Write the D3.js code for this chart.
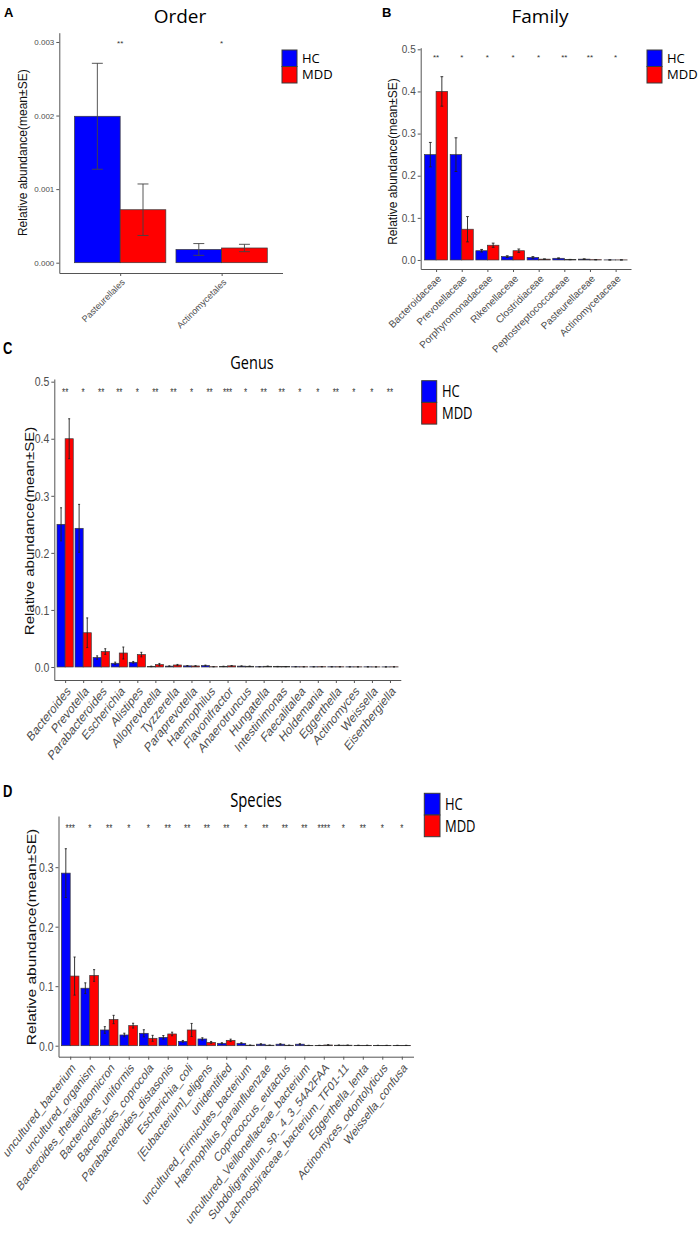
<!DOCTYPE html>
<html><head><meta charset="utf-8">
<script src="https://cdn.jsdelivr.net/npm/d3@7/dist/d3.min.js"></script>
<style>body{margin:0;background:#fff;} svg{display:block;}</style>
</head><body><svg id="c" width="700" height="1239"></svg>
<script>
// ---------- DATA ----------
const groups = ["HC", "MDD"];
const groupColors = ["#0000FF", "#FF0000"];

const orderCategories = ["Pasteurellales", "Actinomycetales"];
const orderHC = [0.00199, 0.00018];
const orderHCse = [0.00072, 0.00008];
const orderMDD = [0.00072, 0.00020];
const orderMDDse = [0.00035, 0.00005];
const orderStars = ["**", "*"];
const orderTicks = [0, 0.001, 0.002, 0.003];

const familyCategories = ["Bacteroidaceae", "Prevotellaceae", "Porphyromonadaceae", "Rikenellaceae", "Clostridiaceae", "Peptostreptococcaceae", "Pasteurellaceae", "Actinomycetaceae"];
const familyHC = [0.250, 0.250, 0.022, 0.008, 0.006, 0.004, 0.002, 0.0002];
const familyHCse = [0.029, 0.040, 0.003, 0.002, 0.002, 0.001, 0.0007, 0.0001];
const familyMDD = [0.400, 0.073, 0.035, 0.022, 0.002, 0.001, 0.0007, 0.0002];
const familyMDDse = [0.035, 0.030, 0.005, 0.004, 0.0005, 0.0004, 0.0003, 0.0001];
const familyStars = ["**", "*", "*", "*", "*", "**", "**", "*"];
const familyTicks = [0, 0.1, 0.2, 0.3, 0.4, 0.5];

const genusCategories = ["Bacteroides", "Prevotella", "Parabacteroides", "Escherichia", "Alistipes", "Alloprevotella", "Tyzzerella", "Paraprevotella", "Haemophilus", "Flavonifractor", "Anaerotruncus", "Hungatella", "Intestinimonas", "Faecalitalea", "Holdemania", "Eggerthella", "Actinomyces", "Weissella", "Eisenbergiella"];
const genusHC = [0.250, 0.243, 0.0165, 0.0065, 0.0082, 0.001, 0.0015, 0.002, 0.0025, 0.001, 0.0015, 0.0005, 0.0007, 0.0005, 0.0004, 0.0004, 0.0003, 0.0003, 0.0002];
const genusHCse = [0.029, 0.042, 0.003, 0.002, 0.0015, 0.0005, 0.0005, 0.0006, 0.0008, 0.0004, 0.0004, 0.0002, 0.0003, 0.0002, 0.0002, 0.0002, 0.0001, 0.0001, 0.0001];
const genusMDD = [0.400, 0.060, 0.027, 0.0245, 0.0217, 0.0042, 0.0035, 0.0018, 0.0005, 0.002, 0.0012, 0.0012, 0.0006, 0.0004, 0.0005, 0.0004, 0.0003, 0.0002, 0.0003];
const genusMDDse = [0.035, 0.026, 0.005, 0.0105, 0.004, 0.002, 0.001, 0.0005, 0.0002, 0.0006, 0.0004, 0.0004, 0.0002, 0.0002, 0.0002, 0.0002, 0.0001, 0.0001, 0.0001];
const genusStars = ["**", "*", "**", "**", "*", "**", "**", "*", "**", "***", "*", "**", "**", "*", "*", "**", "*", "*", "**"];
const genusTicks = [0, 0.1, 0.2, 0.3, 0.4, 0.5];

const speciesCategories = ["uncultured_bacterium", "uncultured_organism", "Bacteroides_thetaiotaomicron", "Bacteroides_uniformis", "Bacteroides_coprocola", "Parabacteroides_distasonis", "Escherichia_coli", "[Eubacterium]_eligens", "unidentified", "uncultured_Firmicutes_bacterium", "Haemophilus_parainfluenzae", "Coprococcus_eutactus", "uncultured_Veillonellaceae_bacterium", "Subdoligranulum_sp._4_3_54A2FAA", "Lachnospiraceae_bacterium_TF01-11", "Eggerthella_lenta", "Actinomyces_odontolyticus", "Weissella_confusa"];
const speciesHC = [0.290, 0.0966, 0.0264, 0.018, 0.0208, 0.014, 0.0073, 0.0113, 0.004, 0.004, 0.0025, 0.0025, 0.0025, 0.0005, 0.0008, 0.0006, 0.0005, 0.0005];
const speciesHCse = [0.041, 0.009, 0.0056, 0.003, 0.006, 0.003, 0.0015, 0.002, 0.001, 0.001, 0.0008, 0.0008, 0.0008, 0.0002, 0.0003, 0.0002, 0.0002, 0.0002];
const speciesMDD = [0.117, 0.118, 0.044, 0.0337, 0.0124, 0.0197, 0.0264, 0.0056, 0.009, 0.0008, 0.0008, 0.0007, 0.0005, 0.0012, 0.0008, 0.0006, 0.0005, 0.0005];
const speciesMDDse = [0.032, 0.0098, 0.007, 0.004, 0.005, 0.003, 0.011, 0.0015, 0.002, 0.0003, 0.0003, 0.0003, 0.0002, 0.0004, 0.0003, 0.0002, 0.0002, 0.0002];
const speciesStars = ["***", "*", "**", "*", "*", "**", "**", "**", "**", "*", "**", "**", "**", "****", "*", "**", "*", "*"];
const speciesTicks = [0, 0.1, 0.2, 0.3];

// ---------- DRAW ----------
const svg = d3.select("#c");
const tickFont = "'Liberation Sans', Arial, sans-serif";
const titleFont = "'Open Sans', 'DejaVu Sans', sans-serif";
const axisColor = "#555";

function drawPanel(cfg) {
  const g = svg.append("g");
  const sy = cfg.sy;
  const x = d3.scalePoint().domain(cfg.cats).range([cfg.x0, cfg.x1]).padding(0.6);
  const step = x.step();
  const sub = d3.scaleBand().domain(groups).range([-0.45 * step, 0.45 * step]);
  const bw = sub.bandwidth();
  const y = d3.scaleLinear().domain(cfg.yDomain).range([cfg.y1, cfg.y0]);

  const rows = [];
  cfg.cats.forEach((c, i) => {
    rows.push({c, k: "HC", v: cfg.hc[i], se: cfg.hcse[i], col: groupColors[0]});
    rows.push({c, k: "MDD", v: cfg.mdd[i], se: cfg.mddse[i], col: groupColors[1]});
  });

  // bars
  g.selectAll("rect.bar").data(rows).enter().append("rect")
    .attr("x", d => x(d.c) + sub(d.k))
    .attr("width", bw)
    .attr("y", d => y(d.v))
    .attr("height", d => Math.max(0, y(0) - y(d.v)))
    .attr("fill", d => d.col)
    .attr("stroke", "#3a3a3a").attr("stroke-width", 0.7);

  // error bars
  const capW = bw * 0.24;
  const eb = g.selectAll("g.eb").data(rows).enter().append("g")
    .attr("stroke", cfg.ebColor).attr("stroke-width", 0.9);
  eb.append("line")
    .attr("x1", d => x(d.c) + sub(d.k) + bw / 2).attr("x2", d => x(d.c) + sub(d.k) + bw / 2)
    .attr("y1", d => y(d.v - d.se)).attr("y2", d => y(d.v + d.se));
  eb.append("line")
    .attr("x1", d => x(d.c) + sub(d.k) + bw / 2 - capW / 2).attr("x2", d => x(d.c) + sub(d.k) + bw / 2 + capW / 2)
    .attr("y1", d => y(d.v - d.se)).attr("y2", d => y(d.v - d.se));
  eb.append("line")
    .attr("x1", d => x(d.c) + sub(d.k) + bw / 2 - capW / 2).attr("x2", d => x(d.c) + sub(d.k) + bw / 2 + capW / 2)
    .attr("y1", d => y(d.v + d.se)).attr("y2", d => y(d.v + d.se));

  // stars
  g.selectAll("text.star").data(cfg.cats).enter().append("text")
    .attr("transform", (c) => `translate(${x(c)},${y(cfg.starY)}) scale(1,${sy})`)
    .attr("y", cfg.starSize * 0.55)
    .attr("text-anchor", "middle")
    .attr("font-family", tickFont).attr("font-size", cfg.starSize)
    .attr("fill", "#333")
    .text((c, i) => cfg.stars[i]);

  // y axis
  const ya = g.append("g").attr("transform", `translate(${cfg.x0},0)`)
    .call(d3.axisLeft(y).tickValues(cfg.ticks).tickFormat(d3.format(cfg.fmt)).tickSize(3).tickSizeOuter(0));
  ya.select(".domain").attr("stroke", axisColor).attr("stroke-width", 1);
  ya.selectAll(".tick line").attr("stroke", axisColor);
  ya.selectAll(".tick text").attr("fill", "#4d4d4d").attr("font-family", tickFont)
    .attr("font-size", cfg.tickSize).attr("x", -5).attr("transform", `scale(1,${sy})`);

  // x axis
  const xa = g.append("g").attr("transform", `translate(0,${cfg.y1})`)
    .call(d3.axisBottom(x).tickSize(3).tickSizeOuter(0));
  xa.select(".domain").attr("stroke", axisColor).attr("stroke-width", 1);
  xa.selectAll(".tick line").attr("stroke", axisColor);
  xa.selectAll(".tick text").attr("fill", "#4d4d4d").attr("font-family", tickFont)
    .attr("font-size", cfg.xlabSize)
    .attr("x", 0).attr("y", 0).attr("dy", "0.75em")
    .attr("text-anchor", "end")
    .attr("transform", `translate(0,5) scale(1,${sy}) rotate(-45)`);

  // y title
  g.append("text")
    .attr("transform", `translate(${cfg.ytx},${cfg.yty}) scale(1,${sy}) rotate(-90)`)
    .attr("text-anchor", "middle").attr("dy", "0.35em")
    .attr("font-family", tickFont).attr("font-size", cfg.ytSize).attr("fill", "#111")
    .text("Relative abundance(mean±SE)");

  // title
  g.append("text")
    .attr("transform", `translate(${cfg.tx},${cfg.ty}) scale(1,${sy})`)
    .attr("text-anchor", "middle")
    .attr("font-family", titleFont).attr("font-size", cfg.titleSize).attr("fill", "#000")
    .text(cfg.title);

  // panel letter
  g.append("text")
    .attr("transform", `translate(${cfg.lx},${cfg.ly}) scale(1,${sy})`)
    .attr("font-family", "Arial, 'Liberation Sans', sans-serif").attr("font-weight", "bold")
    .attr("font-size", 13).attr("fill", "#000")
    .text(cfg.letter);

  // legend
  groups.forEach((k, i) => {
    g.append("rect")
      .attr("x", cfg.legX).attr("y", cfg.legY + i * cfg.legH)
      .attr("width", cfg.legW).attr("height", cfg.legH)
      .attr("fill", groupColors[i]).attr("stroke", "#3a3a3a").attr("stroke-width", 1);
    g.append("text")
      .attr("transform", `translate(${cfg.legTX},${cfg.legY + i * cfg.legH + cfg.legH / 2}) scale(1,${sy})`)
      .attr("dy", "0.36em")
      .attr("font-family", titleFont).attr("font-size", cfg.legSize).attr("fill", "#000")
      .text(k);
  });
}

drawPanel({
  letter: "A", lx: 4, ly: 17, title: "Order", tx: 180, ty: 23, titleSize: 19, sy: 1,
  cats: orderCategories, hc: orderHC, hcse: orderHCse, mdd: orderMDD, mddse: orderMDDse,
  stars: orderStars, starY: 0.003, starSize: 8, ebColor: "#444",
  ticks: orderTicks, fmt: ".3f", yDomain: [-0.00014, 0.003126],
  x0: 59.3, x1: 282.5, y0: 32.7, y1: 273,
  tickSize: 8, xlabSize: 9, ytSize: 12, ytx: 22.5, yty: 152.7,
  legX: 282, legY: 50, legW: 15, legH: 16.5, legTX: 302, legSize: 13
});

drawPanel({
  letter: "B", lx: 382, ly: 17, title: "Family", tx: 540, ty: 23, titleSize: 19, sy: 1,
  cats: familyCategories, hc: familyHC, hcse: familyHCse, mdd: familyMDD, mddse: familyMDDse,
  stars: familyStars, starY: 0.486, starSize: 8, ebColor: "#222",
  ticks: familyTicks, fmt: ".1f", yDomain: [-0.0214, 0.5038],
  x0: 420.7, x1: 631, y0: 47.7, y1: 269,
  tickSize: 10, xlabSize: 10, ytSize: 12, ytx: 393, yty: 161.5,
  legX: 647, legY: 50, legW: 15, legH: 16.5, legTX: 667, legSize: 13
});

drawPanel({
  letter: "C", lx: 3, ly: 354, title: "Genus", tx: 252, ty: 369, titleSize: 14.5, sy: 1.25,
  cats: genusCategories, hc: genusHC, hcse: genusHCse, mdd: genusMDD, mddse: genusMDDse,
  stars: genusStars, starY: 0.484, starSize: 8, ebColor: "#222",
  ticks: genusTicks, fmt: ".1f", yDomain: [-0.0228, 0.5047],
  x0: 54.3, x1: 400.8, y0: 379, y1: 680,
  tickSize: 10.5, xlabSize: 10.7, ytSize: 12, ytx: 30, yty: 531,
  legX: 421.7, legY: 380.7, legW: 15, legH: 21.7, legTX: 442, legSize: 13
});

drawPanel({
  letter: "D", lx: 3, ly: 797, title: "Species", tx: 256, ty: 807, titleSize: 14.8, sy: 1.3,
  cats: speciesCategories, hc: speciesHC, hcse: speciesHCse, mdd: speciesMDD, mddse: speciesMDDse,
  stars: speciesStars, starY: 0.369, starSize: 8, ebColor: "#222",
  ticks: speciesTicks, fmt: ".1f", yDomain: [-0.0185, 0.386],
  x0: 58.5, x1: 413.5, y0: 816, y1: 1056.7,
  tickSize: 10.5, xlabSize: 10.1, ytSize: 12, ytx: 32, yty: 937,
  legX: 424.3, legY: 793.3, legW: 15.7, legH: 21.7, legTX: 445, legSize: 13
});
</script>
</body></html>
